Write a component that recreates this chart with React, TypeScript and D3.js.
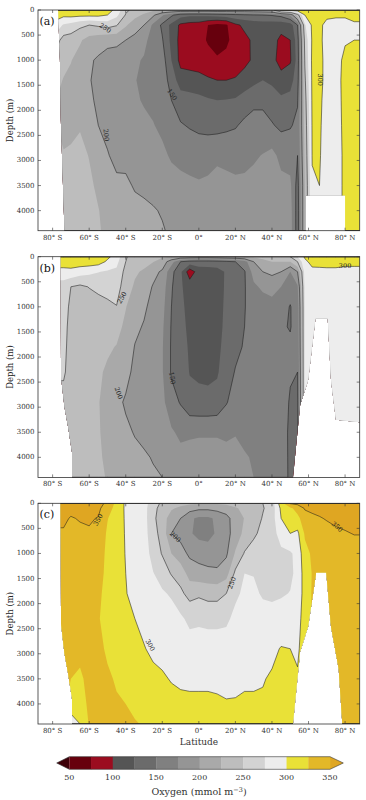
import React from "react";
import * as d3 from "d3";

// Grid of the zonal-mean sections: columns = latitudes, rows = depths
const LATS = [-90, -78, -74, -70, -65, -60, -55, -50, -45, -40, -35, -30, -25, -20, -15, -10, -5, 0, 5, 10, 15, 20, 25, 30, 35, 40, 45, 50, 54, 58, 62, 66, 70, 75, 80, 85, 90];
const DEPTHS = [0, 100, 300, 600, 1000, 1400, 1800, 2300, 2900, 3500, 4000, 4400];

// Oxygen (mmol m-3), one array per latitude (values at DEPTHS)
const OXY_A = [
  [316, 310, 290, 260, 240, 230, 225, 225, 225, 225, 225, 225],
  [316, 310, 290, 260, 240, 230, 225, 225, 225, 225, 225, 225],
  [314, 306, 272, 240, 230, 224, 221, 221, 226, 228, 228, 228],
  [316, 308, 266, 238, 226, 220, 218, 220, 228, 232, 232, 232],
  [318, 306, 256, 228, 216, 212, 214, 223, 232, 234, 234, 234],
  [318, 306, 250, 216, 203, 201, 203, 212, 224, 230, 232, 232],
  [316, 306, 254, 210, 197, 196, 197, 200, 210, 220, 226, 228],
  [312, 300, 260, 205, 193, 190, 192, 196, 201, 210, 216, 218],
  [292, 282, 252, 205, 190, 186, 188, 192, 196, 203, 207, 209],
  [255, 248, 228, 200, 186, 182, 184, 190, 197, 202, 205, 206],
  [242, 232, 212, 192, 180, 176, 178, 185, 192, 199, 203, 204],
  [235, 222, 200, 184, 172, 170, 173, 180, 188, 198, 202, 203],
  [230, 205, 170, 160, 163, 166, 170, 176, 185, 196, 201, 202],
  [228, 178, 145, 152, 162, 163, 165, 170, 180, 192, 199, 201],
  [228, 155, 118, 118, 125, 140, 150, 160, 172, 185, 194, 198],
  [226, 135, 95, 92, 92, 112, 138, 152, 168, 182, 190, 194],
  [226, 130, 90, 88, 90, 110, 135, 148, 165, 180, 188, 191],
  [226, 130, 88, 85, 88, 108, 132, 145, 163, 178, 186, 189],
  [226, 132, 75, 72, 85, 103, 128, 143, 165, 180, 186, 188],
  [228, 135, 68, 65, 78, 100, 125, 142, 170, 184, 187, 188],
  [228, 138, 72, 70, 82, 100, 126, 145, 168, 182, 186, 187],
  [228, 142, 95, 85, 88, 102, 128, 148, 166, 180, 185, 186],
  [228, 145, 105, 94, 95, 108, 138, 155, 168, 180, 185, 186],
  [230, 148, 110, 104, 103, 118, 145, 158, 172, 182, 186, 187],
  [232, 150, 112, 108, 112, 125, 145, 158, 176, 185, 188, 188],
  [235, 152, 110, 108, 108, 120, 138, 152, 182, 188, 190, 190],
  [310, 158, 108, 95, 90, 110, 130, 145, 168, 182, 187, 188],
  [312, 180, 112, 100, 97, 115, 133, 148, 165, 180, 185, 186],
  [315, 240, 150, 138, 135, 140, 148, 155, 150, 140, 138, 138],
  [318, 300, 272, 258, 252, 246, 240, 235, 230, 225, 225, 225],
  [320, 314, 304, 303, 305, 304, 303, 302, 301, 298, 295, 295],
  [322, 314, 306, 306, 307, 306, 304, 303, 302, 300, 298, 298],
  [318, 306, 292, 290, 292, 293, 292, 290, 288, 288, 288, 288],
  [314, 304, 290, 292, 292, 293, 292, 292, 290, 290, 290, 290],
  [314, 302, 295, 298, 305, 306, 306, 305, 305, 305, 305, 305],
  [314, 304, 298, 300, 307, 308, 308, 308, 307, 307, 306, 306],
  [314, 304, 298, 300, 307, 308, 308, 308, 307, 307, 306, 306],
];

const OXY_B = [
  [318, 312, 292, 262, 258, 256, 254, 252, 245, 240, 238, 238],
  [318, 312, 292, 262, 258, 256, 254, 252, 245, 240, 238, 238],
  [318, 312, 292, 262, 258, 256, 254, 252, 245, 240, 238, 238],
  [318, 313, 293, 250, 246, 244, 244, 244, 243, 240, 238, 238],
  [320, 314, 286, 245, 238, 236, 236, 237, 238, 238, 237, 237],
  [320, 314, 281, 251, 236, 232, 232, 233, 234, 234, 234, 234],
  [318, 311, 276, 256, 240, 234, 230, 228, 226, 227, 228, 228],
  [305, 296, 272, 258, 245, 235, 228, 222, 218, 218, 221, 224],
  [290, 282, 270, 262, 249, 232, 224, 212, 204, 210, 216, 218],
  [252, 250, 242, 235, 226, 220, 214, 205, 198, 203, 208, 210],
  [240, 236, 228, 222, 212, 205, 199, 196, 194, 199, 204, 206],
  [236, 232, 222, 212, 204, 198, 195, 192, 190, 196, 202, 204],
  [232, 226, 208, 198, 192, 188, 186, 186, 188, 194, 199, 202],
  [228, 215, 196, 188, 183, 179, 177, 177, 181, 189, 196, 200],
  [224, 185, 158, 153, 150, 148, 147, 147, 160, 178, 188, 194],
  [220, 150, 130, 128, 130, 132, 135, 138, 148, 170, 182, 188],
  [218, 140, 85, 115, 118, 120, 122, 124, 132, 172, 182, 186],
  [216, 138, 112, 114, 116, 118, 120, 122, 130, 173, 182, 186],
  [216, 138, 113, 113, 115, 117, 118, 121, 130, 173, 182, 186],
  [218, 140, 115, 116, 117, 118, 120, 123, 132, 173, 182, 186],
  [220, 145, 128, 128, 129, 130, 132, 135, 148, 172, 180, 184],
  [222, 150, 135, 135, 136, 137, 142, 152, 162, 174, 180, 183],
  [225, 165, 148, 148, 149, 150, 153, 158, 165, 172, 176, 178],
  [230, 200, 185, 170, 160, 162, 163, 165, 168, 172, 174, 175],
  [235, 215, 200, 180, 162, 158, 160, 163, 166, 168, 170, 172],
  [240, 225, 205, 185, 165, 155, 157, 160, 163, 165, 167, 168],
  [242, 225, 200, 175, 158, 152, 155, 158, 160, 162, 163, 164],
  [250, 225, 175, 158, 149, 149, 153, 152, 148, 145, 145, 145],
  [275, 250, 200, 172, 160, 158, 155, 150, 146, 145, 145, 145],
  [304, 294, 285, 281, 280, 280, 280, 280, 280, 280, 280, 280],
  [314, 308, 293, 285, 283, 282, 282, 282, 282, 282, 282, 282],
  [314, 309, 293, 286, 284, 283, 283, 283, 283, 283, 283, 283],
  [314, 309, 294, 287, 285, 284, 284, 284, 284, 284, 284, 284],
  [314, 309, 294, 287, 285, 284, 284, 284, 284, 284, 284, 284],
  [312, 307, 292, 286, 284, 283, 283, 283, 283, 283, 283, 283],
  [312, 307, 292, 286, 284, 283, 283, 283, 283, 283, 283, 283],
  [312, 307, 292, 286, 284, 283, 283, 283, 283, 283, 283, 283],
];

const OXY_C = [
  [362, 360, 355, 347, 343, 341, 339, 337, 335, 333, 330, 330],
  [362, 360, 355, 347, 343, 341, 339, 337, 335, 333, 330, 330],
  [362, 360, 355, 347, 343, 341, 339, 337, 335, 333, 330, 330],
  [362, 358, 348, 345, 343, 341, 340, 338, 334, 325, 315, 285],
  [362, 358, 352, 344, 342, 340, 338, 335, 330, 322, 318, 300],
  [363, 360, 352, 348, 342, 340, 338, 335, 332, 330, 328, 327],
  [358, 355, 349, 340, 336, 332, 328, 326, 330, 332, 333, 333],
  [345, 336, 326, 322, 320, 320, 320, 320, 322, 328, 332, 333],
  [318, 316, 314, 312, 310, 308, 308, 310, 315, 323, 327, 329],
  [296, 296, 297, 298, 299, 300, 301, 304, 310, 318, 325, 327],
  [288, 288, 290, 291, 292, 293, 294, 300, 303, 312, 322, 326],
  [285, 284, 285, 286, 287, 288, 290, 295, 301, 310, 316, 324],
  [262, 258, 255, 258, 266, 276, 282, 290, 296, 305, 311, 315],
  [245, 240, 238, 242, 248, 265, 278, 288, 295, 302, 308, 312],
  [238, 228, 212, 200, 225, 248, 272, 285, 293, 299, 305, 310],
  [232, 220, 200, 192, 210, 240, 255, 280, 290, 297, 304, 308],
  [230, 210, 180, 178, 195, 215, 242, 268, 288, 297, 303, 306],
  [228, 205, 170, 168, 190, 210, 246, 270, 288, 297, 303, 305],
  [228, 205, 170, 168, 185, 208, 242, 268, 288, 297, 303, 305],
  [228, 208, 180, 178, 188, 205, 242, 268, 288, 297, 302, 304],
  [230, 212, 192, 192, 196, 215, 250, 270, 288, 296, 301, 303],
  [235, 222, 212, 210, 228, 256, 270, 282, 290, 297, 301, 302],
  [240, 232, 226, 232, 252, 275, 280, 285, 291, 298, 302, 303],
  [245, 240, 236, 245, 262, 274, 280, 286, 292, 299, 301, 303],
  [250, 248, 252, 258, 265, 268, 272, 285, 293, 299, 302, 302],
  [262, 262, 264, 265, 266, 267, 270, 285, 296, 302, 304, 305],
  [315, 305, 300, 285, 270, 267, 272, 288, 301, 306, 307, 307],
  [352, 320, 312, 300, 272, 270, 276, 290, 300, 305, 306, 306],
  [356, 335, 318, 295, 282, 282, 285, 292, 297, 302, 306, 306],
  [358, 352, 340, 328, 318, 312, 310, 310, 310, 310, 310, 310],
  [360, 355, 345, 335, 328, 326, 327, 328, 328, 328, 328, 328],
  [362, 358, 348, 338, 332, 332, 332, 332, 332, 332, 332, 332],
  [365, 360, 352, 340, 335, 334, 334, 334, 334, 334, 334, 334],
  [365, 362, 356, 345, 336, 335, 335, 335, 335, 335, 335, 335],
  [365, 362, 358, 348, 337, 336, 336, 336, 336, 336, 336, 336],
  [365, 362, 358, 351, 338, 337, 337, 337, 337, 337, 337, 337],
  [365, 362, 358, 351, 338, 337, 337, 337, 337, 337, 337, 337],
];

// Contour levels and colours (below 50, 50-75, ..., above 350)
const LEVELS = [50, 75, 100, 125, 150, 175, 200, 225, 250, 275, 300, 325, 350];
const BAND_COLORS = ["#3d0008", "#67000d", "#9b0c1f", "#555555", "#6b6b6b", "#808080", "#959595", "#a9a9a9", "#bdbdbd", "#d3d3d3", "#ededed", "#e9e137", "#e3b828", "#dfa622"];
const LINE_LEVELS = [100, 150, 200, 250, 300, 350];

// Ocean domain of each panel (outside: land / sea floor)
const OCEAN_A_LAT = [-77, -76, -75.5, -73.5, 58.5, 58.5, 80, 80, 88, 88];
const OCEAN_A_DEPTH = [0, 1000, 2200, 4400, 4400, 3700, 3700, 4400, 4400, 0];
const OCEAN_B_LAT = [-75.6, -75.4, -73.5, -71.5, -69.4, -69.4, 51.5, 55.4, 59.8, 63.8, 70.5, 72.3, 75, 88, 88];
const OCEAN_B_DEPTH = [0, 2400, 3000, 3400, 3900, 4400, 4400, 2960, 2460, 1230, 1230, 2460, 3250, 3300, 0];
const OCEAN_C_LAT = [-75.6, -75.4, -73.5, -71.5, -69.4, -69.4, 51.5, 55.4, 59.8, 64.2, 69.7, 72.3, 76.5, 78.5, 88, 88];
const OCEAN_C_DEPTH = [0, 2400, 3000, 3400, 3900, 4400, 4400, 2960, 2460, 1380, 1380, 2460, 3300, 4400, 4400, 0];

const LAT_TICKS = [-80, -60, -40, -20, 0, 20, 40, 60, 80];
const DEPTH_TICKS = [0, 500, 1000, 1500, 2000, 2500, 3000, 3500, 4000];
const CBAR_TICKS = [50, 100, 150, 200, 250, 300, 350];
const PANEL_NAMES = ["(a)", "(b)", "(c)"];

const LABELS_A = [
  { text: "250", lat: -51.3, depth: 360, rot: 35 },
  { text: "150", lat: -14.7, depth: 1690, rot: 55 },
  { text: "200", lat: -50.8, depth: 2490, rot: 85 },
  { text: "300", lat: 66.3, depth: 1390, rot: 90 },
];
const LABELS_B = [
  { text: "250", lat: -42, depth: 820, rot: -60 },
  { text: "150", lat: -14.7, depth: 2420, rot: 80 },
  { text: "200", lat: -44, depth: 2720, rot: 70 },
  { text: "300", lat: 80, depth: 180, rot: 0 },
];
const LABELS_C = [
  { text: "350", lat: -55, depth: 330, rot: -60 },
  { text: "200", lat: -13, depth: 670, rot: 45 },
  { text: "250", lat: 18.2, depth: 1590, rot: -70 },
  { text: "300", lat: -26.7, depth: 2830, rot: 60 },
  { text: "350", lat: 75.6, depth: 470, rot: 40 },
];

const LEFT = 38;
const RIGHT = 359.7;
const PANEL_H = 220.7;
const TOPS = [10, 256.7, 503.3];
const FONT = "DejaVu Serif";

const x = d3.scaleLinear().domain([-88, 88]).range([LEFT, RIGHT]);

function latLabel(v: number) {
  if (v === 0) return "0°";
  return `${Math.abs(v)}° ${v < 0 ? "S" : "N"}`;
}

function Panel({ cols, top, idx, labels, oceanLat, oceanDepth }: any) {
  const y = d3.scaleLinear().domain([0, 4400]).range([top, top + PANEL_H]);
  const n = LATS.length;
  const m = DEPTHS.length;
  const values: number[] = new Array(n * m);
  for (let j = 0; j < m; j++) for (let i = 0; i < n; i++) values[j * n + i] = cols[i][j];
  const contours = d3.contours().size([n, m]).thresholds(LEVELS)(values);
  const li = d3.scaleLinear().domain(d3.range(n)).range(LATS).clamp(true);
  const di = d3.scaleLinear().domain(d3.range(m)).range(DEPTHS).clamp(true);
  const proj = d3.geoTransform({
    point: function (px: number, py: number) {
      (this as any).stream.point(x(li(px - 0.5)), y(di(py - 0.5)));
    },
  });
  const path = d3.geoPath(proj as any);
  const clipId = `ocean-${idx}`;
  const ocean = oceanLat.map((la: number, k: number) => `${x(la)},${y(oceanDepth[k])}`).join(" ");
  const bottom = top + PANEL_H;
  return (
    <g>
      <defs>
        <clipPath id={clipId}>
          <polygon points={ocean} />
        </clipPath>
      </defs>
      <g clipPath={`url(#${clipId})`}>
        <rect x={LEFT} y={top} width={RIGHT - LEFT} height={PANEL_H} fill={BAND_COLORS[0]} />
        {contours.map((c: any, k: number) => (
          <path key={k} d={path(c) || ""} fill={BAND_COLORS[k + 1]} stroke="none" />
        ))}
        {contours
          .filter((c: any) => LINE_LEVELS.includes(c.value))
          .map((c: any, k: number) => (
            <path key={"l" + k} d={path(c) || ""} fill="none" stroke="#1e1e1e" strokeWidth={0.55} />
          ))}
      </g>
      {labels.map((l: any, k: number) => (
        <text
          key={"cl" + k}
          x={0}
          y={0}
          transform={`translate(${x(l.lat)},${y(l.depth)}) rotate(${l.rot})`}
          fontSize={6.5}
          fill="#222"
          textAnchor="middle"
          dominantBaseline="central"
          fontFamily={FONT}
        >
          {l.text}
        </text>
      ))}
      <rect x={LEFT} y={top} width={RIGHT - LEFT} height={PANEL_H} fill="none" stroke="#333" strokeWidth={0.8} />
      {LAT_TICKS.map((t) => (
        <g key={"xt" + t}>
          <line x1={x(t)} x2={x(t)} y1={bottom} y2={bottom - 3} stroke="#333" strokeWidth={0.6} />
          <line x1={x(t)} x2={x(t)} y1={top} y2={top + 3} stroke="#333" strokeWidth={0.6} />
          <text x={x(t)} y={bottom + 8.8} fontSize={7} textAnchor="middle" fill="#333" fontFamily={FONT}>
            {latLabel(t)}
          </text>
        </g>
      ))}
      {DEPTH_TICKS.map((t) => (
        <g key={"yt" + t}>
          <line x1={LEFT} x2={LEFT + 3} y1={y(t)} y2={y(t)} stroke="#333" strokeWidth={0.6} />
          <line x1={RIGHT} x2={RIGHT - 3} y1={y(t)} y2={y(t)} stroke="#333" strokeWidth={0.6} />
          <text x={34.5} y={y(t)} fontSize={7} textAnchor="end" dominantBaseline="central" fill="#333" fontFamily={FONT}>
            {t}
          </text>
        </g>
      ))}
      <text
        transform={`translate(10,${top + PANEL_H / 2}) rotate(-90)`}
        fontSize={8.5}
        textAnchor="middle"
        dominantBaseline="central"
        fill="#222"
        fontFamily={FONT}
      >
        Depth (m)
      </text>
      <text x={39.5} y={top + 15} fontSize={11} fill="#111" fontFamily={FONT}>
        {PANEL_NAMES[idx]}
      </text>
    </g>
  );
}

function Colorbar() {
  const cx = d3.scaleLinear().domain([50, 350]).range([69.3, 330]);
  const y0 = 756.7;
  const y1 = 769.3;
  const ym = (y0 + y1) / 2;
  const outline = `M${cx(50)},${y0} L${cx(350)},${y0} L${cx(350) + 13.3},${ym} L${cx(350)},${y1} L${cx(50)},${y1} L${cx(50) - 12.6},${ym} Z`;
  return (
    <g>
      <polygon points={`${cx(50)},${y0} ${cx(50) - 12.6},${ym} ${cx(50)},${y1}`} fill={BAND_COLORS[0]} />
      <polygon points={`${cx(350)},${y0} ${cx(350) + 13.3},${ym} ${cx(350)},${y1}`} fill={BAND_COLORS[BAND_COLORS.length - 1]} />
      {LEVELS.slice(0, -1).map((t, k) => (
        <rect key={t} x={cx(t)} y={y0} width={cx(LEVELS[k + 1]) - cx(t) + 0.3} height={y1 - y0} fill={BAND_COLORS[k + 1]} />
      ))}
      <path d={outline} fill="none" stroke="#333" strokeWidth={0.6} />
      {CBAR_TICKS.map((t) => (
        <text key={t} x={cx(t)} y={779.5} fontSize={8} textAnchor="middle" fill="#333" fontFamily={FONT}>
          {t}
        </text>
      ))}
      <text x={199} y={795} fontSize={9.5} textAnchor="middle" fill="#333" fontFamily={FONT}>
        Oxygen (mmol m
        <tspan dy={-3.5} fontSize={6.5}>−3</tspan>
        <tspan dy={3.5}>)</tspan>
      </text>
    </g>
  );
}

export default function App() {
  const panels = [OXY_A, OXY_B, OXY_C];
  const labels = [LABELS_A, LABELS_B, LABELS_C];
  const oceanLats = [OCEAN_A_LAT, OCEAN_B_LAT, OCEAN_C_LAT];
  const oceanDepths = [OCEAN_A_DEPTH, OCEAN_B_DEPTH, OCEAN_C_DEPTH];
  return (
    <svg width={366} height={800} style={{ position: "absolute", left: 0, top: 0, background: "#fff" }}>
      <rect x={0} y={0} width={366} height={800} fill="#fff" />
      {panels.map((cols, i) => (
        <Panel
          key={i}
          cols={cols}
          top={TOPS[i]}
          idx={i}
          labels={labels[i]}
          oceanLat={oceanLats[i]}
          oceanDepth={oceanDepths[i]}
        />
      ))}
      <text x={199} y={745} fontSize={9} textAnchor="middle" fill="#333" fontFamily={FONT}>
        Latitude
      </text>
      <Colorbar />
    </svg>
  );
}
